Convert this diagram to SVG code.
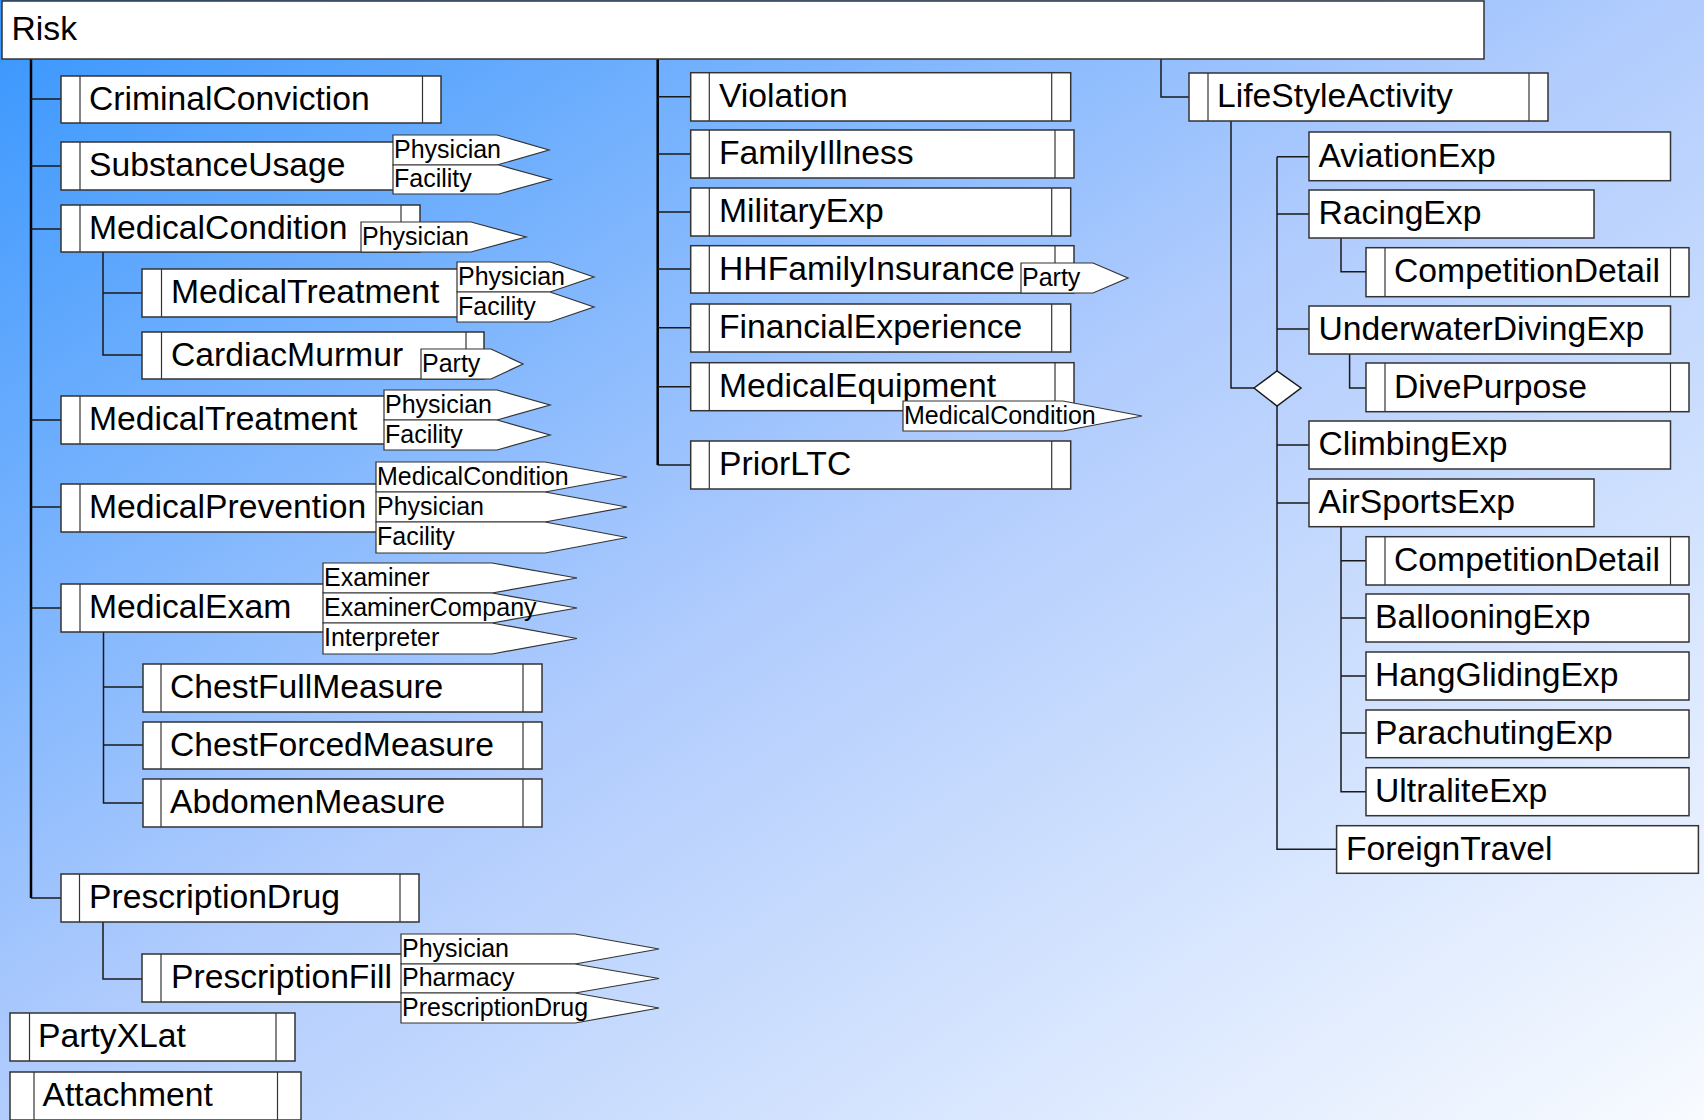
<svg xmlns="http://www.w3.org/2000/svg" width="1704" height="1120" viewBox="0 0 1704 1120">
<defs>
<linearGradient id="bg" x1="0" y1="0" x2="1" y2="1">
<stop offset="0" stop-color="#3796fd"/>
<stop offset="0.48" stop-color="#afcbfd"/>
<stop offset="1" stop-color="#f8fbff"/>
</linearGradient>
<style>
.box{fill:#fff;stroke:#333;stroke-width:1.5}
.dv{stroke:#333;stroke-width:1.2}
.tab{fill:#fff;stroke:#333;stroke-width:1.2}
.t{font-family:"Liberation Sans",Arial,sans-serif;font-size:33.7px;fill:#000}
.tt{font-family:"Liberation Sans",Arial,sans-serif;font-size:25px;fill:#000}
.c{stroke:#1a1a1a;stroke-width:1.5;fill:none}
.trunk{stroke:#000;stroke-width:2.5;fill:none}
</style>
</defs>
<rect width="1704" height="1120" fill="url(#bg)"/>

<g id="connectors">
<path class="trunk" d="M31,59V898"/>
<path class="c" d="M31,898H61M31,99H61M31,166H61M31,229H61M31,420H61M31,507H61M31,608H61"/>
<path class="c" d="M103,252V355H142M103,293H142"/>
<path class="c" d="M103.5,632V803H143M103.5,687H143M103.5,745H143"/>
<path class="c" d="M103,922V979H142"/>
<path class="trunk" d="M657.7,59V465"/>
<path class="c" d="M657.7,465H690.7M657.7,96.7H690.7M657.7,154H690.7M657.7,212H690.7M657.7,269H690.7M657.7,327.7H690.7M657.7,386.7H690.7"/>
<path class="c" d="M1161,59V97H1189"/>
<path class="c" d="M1231,121V388H1254"/>
<path class="c" d="M1277,156.7V849.3H1336.6M1277,156.7H1309M1277,214H1309M1277,329H1309M1277,445H1309M1277,503H1309"/>
<path class="c" d="M1341,238V271.7H1366"/>
<path class="c" d="M1349.6,354V388H1366"/>
<path class="c" d="M1341,527V791.7H1366M1341,560.7H1366M1341,618H1366M1341,676H1366M1341,733H1366"/>
<polygon id="choice" points="1254,388 1277,371 1301,388 1277,406" fill="#fff" stroke="#1a1a1a" stroke-width="1.5"/>
</g>

<g id="Risk"><rect class="box" x="2" y="1" width="1482" height="58"/><text class="t" x="11.5" y="40">Risk</text></g>

<g id="CriminalConviction"><rect class="box" x="61" y="76" width="380" height="47"/><line class="dv" x1="80" y1="76" x2="80" y2="123"/><line class="dv" x1="422.5" y1="76" x2="422.5" y2="123"/><text class="t" x="89" y="110">CriminalConviction</text></g>

<g id="SubstanceUsage"><rect class="box" x="61" y="142" width="360" height="48"/><line class="dv" x1="80" y1="142" x2="80" y2="190"/><text class="t" x="89" y="176">SubstanceUsage</text>
<polygon class="tab" points="393,135 497,135 549,150 497,165 393,165"/><text class="tt" x="394" y="157.5">Physician</text>
<polygon class="tab" points="393,165 499,165 551,179.5 499,194 393,194"/><text class="tt" x="394" y="187">Facility</text></g>

<g id="MedicalCondition"><rect class="box" x="61" y="205" width="359" height="47"/><line class="dv" x1="80" y1="205" x2="80" y2="252"/><line class="dv" x1="401" y1="205" x2="401" y2="252"/><text class="t" x="89" y="239">MedicalCondition</text>
<polygon class="tab" points="361,222 471,222 526,237 471,252 361,252"/><text class="tt" x="362" y="244.5">Physician</text></g>

<g id="MedicalTreatment1"><rect class="box" x="142" y="269" width="335" height="48"/><line class="dv" x1="161.5" y1="269" x2="161.5" y2="317"/><text class="t" x="171" y="303">MedicalTreatment</text>
<polygon class="tab" points="457,262 550,262 594,277 550,292 457,292"/><text class="tt" x="458" y="284.5">Physician</text>
<polygon class="tab" points="457,292 550,292 594,307 550,322 457,322"/><text class="tt" x="458" y="314.5">Facility</text></g>

<g id="CardiacMurmur"><rect class="box" x="142" y="332" width="342" height="47"/><line class="dv" x1="161.5" y1="332" x2="161.5" y2="379"/><line class="dv" x1="466" y1="332" x2="466" y2="379"/><text class="t" x="171" y="366">CardiacMurmur</text>
<polygon class="tab" points="421,349 491,349 523,364 491,379 421,379"/><text class="tt" x="422" y="371.5">Party</text></g>

<g id="MedicalTreatment2"><rect class="box" x="61" y="396" width="343" height="48"/><line class="dv" x1="80" y1="396" x2="80" y2="444"/><text class="t" x="89" y="430">MedicalTreatment</text>
<polygon class="tab" points="384,390 497,390 550,405 497,420 384,420"/><text class="tt" x="385" y="412.5">Physician</text>
<polygon class="tab" points="384,420 497,420 550,435 497,450 384,450"/><text class="tt" x="385" y="442.5">Facility</text></g>

<g id="MedicalPrevention"><rect class="box" x="61" y="484" width="335" height="48"/><line class="dv" x1="80" y1="484" x2="80" y2="532"/><text class="t" x="89" y="518">MedicalPrevention</text>
<polygon class="tab" points="376,462 545,462 627,477 545,492 376,492"/><text class="tt" x="377" y="484.5">MedicalCondition</text>
<polygon class="tab" points="376,492 545,492 627,507 545,522 376,522"/><text class="tt" x="377" y="514.5">Physician</text>
<polygon class="tab" points="376,522 545,522 627,537.5 545,553 376,553"/><text class="tt" x="377" y="544.5">Facility</text></g>

<g id="MedicalExam"><rect class="box" x="61" y="584" width="282" height="48"/><line class="dv" x1="80" y1="584" x2="80" y2="632"/><text class="t" x="89" y="618">MedicalExam</text>
<polygon class="tab" points="323,563 492,563 577,578 492,593 323,593"/><text class="tt" x="324" y="585.5">Examiner</text>
<polygon class="tab" points="323,593 492,593 577,608 492,623 323,623"/><text class="tt" x="324" y="615.5">ExaminerCompany</text>
<polygon class="tab" points="323,623 492,623 577,638.5 492,654 323,654"/><text class="tt" x="324" y="645.5">Interpreter</text></g>

<g id="ChestFullMeasure"><rect class="box" x="143" y="664" width="399" height="48"/><line class="dv" x1="161" y1="664" x2="161" y2="712"/><line class="dv" x1="523" y1="664" x2="523" y2="712"/><text class="t" x="170" y="698">ChestFullMeasure</text></g>
<g id="ChestForcedMeasure"><rect class="box" x="143" y="722" width="399" height="47"/><line class="dv" x1="161" y1="722" x2="161" y2="769"/><line class="dv" x1="523" y1="722" x2="523" y2="769"/><text class="t" x="170" y="756">ChestForcedMeasure</text></g>
<g id="AbdomenMeasure"><rect class="box" x="143" y="779" width="399" height="48"/><line class="dv" x1="161" y1="779" x2="161" y2="827"/><line class="dv" x1="523" y1="779" x2="523" y2="827"/><text class="t" x="170" y="813">AbdomenMeasure</text></g>

<g id="PrescriptionDrug"><rect class="box" x="61" y="874" width="358" height="48"/><line class="dv" x1="79.5" y1="874" x2="79.5" y2="922"/><line class="dv" x1="400" y1="874" x2="400" y2="922"/><text class="t" x="89" y="908">PrescriptionDrug</text></g>

<g id="PrescriptionFill"><rect class="box" x="142" y="954" width="279" height="48"/><line class="dv" x1="161" y1="954" x2="161" y2="1002"/><text class="t" x="171" y="988">PrescriptionFill</text>
<polygon class="tab" points="401,934 575,934 659,949 575,964 401,964"/><text class="tt" x="402" y="956.5">Physician</text>
<polygon class="tab" points="401,964 575,964 659,978.5 575,993 401,993"/><text class="tt" x="402" y="986">Pharmacy</text>
<polygon class="tab" points="401,993 575,993 659,1008 575,1023 401,1023"/><text class="tt" x="402" y="1015.5">PrescriptionDrug</text></g>

<g id="PartyXLat"><rect class="box" x="10" y="1013" width="285" height="48"/><line class="dv" x1="29.5" y1="1013" x2="29.5" y2="1061"/><line class="dv" x1="276" y1="1013" x2="276" y2="1061"/><text class="t" x="38" y="1047">PartyXLat</text></g>
<g id="Attachment"><rect class="box" x="10" y="1072" width="291" height="48"/><line class="dv" x1="34" y1="1072" x2="34" y2="1120"/><line class="dv" x1="277.5" y1="1072" x2="277.5" y2="1120"/><text class="t" x="42.5" y="1106">Attachment</text></g>

<g id="Violation"><rect class="box" x="690.7" y="72.7" width="380" height="48.3"/><line class="dv" x1="709.3" y1="72.7" x2="709.3" y2="121"/><line class="dv" x1="1051.7" y1="72.7" x2="1051.7" y2="121"/><text class="t" x="719" y="107">Violation</text></g>
<g id="FamilyIllness"><rect class="box" x="690.7" y="130" width="383.3" height="48"/><line class="dv" x1="709.3" y1="130" x2="709.3" y2="178"/><line class="dv" x1="1055" y1="130" x2="1055" y2="178"/><text class="t" x="719" y="164">FamilyIllness</text></g>
<g id="MilitaryExp"><rect class="box" x="690.7" y="188" width="380" height="48"/><line class="dv" x1="709.3" y1="188" x2="709.3" y2="236"/><line class="dv" x1="1051.7" y1="188" x2="1051.7" y2="236"/><text class="t" x="719" y="222">MilitaryExp</text></g>
<g id="HHFamilyInsurance"><rect class="box" x="690.7" y="245.7" width="383.3" height="47.3"/><line class="dv" x1="709.3" y1="245.7" x2="709.3" y2="293"/><line class="dv" x1="1055" y1="245.7" x2="1055" y2="293"/><text class="t" x="719" y="279.5">HHFamilyInsurance</text>
<polygon class="tab" points="1021,263 1093,263 1128,278 1093,293 1021,293"/><text class="tt" x="1022" y="285.5">Party</text></g>
<g id="FinancialExperience"><rect class="box" x="690.7" y="304" width="380" height="48"/><line class="dv" x1="709.3" y1="304" x2="709.3" y2="352"/><line class="dv" x1="1051.7" y1="304" x2="1051.7" y2="352"/><text class="t" x="719" y="338">FinancialExperience</text></g>
<g id="MedicalEquipment"><rect class="box" x="690.7" y="362.7" width="383.3" height="48"/><line class="dv" x1="709.3" y1="362.7" x2="709.3" y2="410.7"/><line class="dv" x1="1055" y1="362.7" x2="1055" y2="410.7"/><text class="t" x="719" y="396.5">MedicalEquipment</text>
<polygon class="tab" points="903,401 1063,401 1142,416 1063,431 903,431"/><text class="tt" x="904" y="423.5">MedicalCondition</text></g>
<g id="PriorLTC"><rect class="box" x="690.7" y="441" width="380" height="48"/><line class="dv" x1="709.3" y1="441" x2="709.3" y2="489"/><line class="dv" x1="1051.7" y1="441" x2="1051.7" y2="489"/><text class="t" x="719" y="475">PriorLTC</text></g>

<g id="LifeStyleActivity"><rect class="box" x="1189" y="73" width="359" height="48"/><line class="dv" x1="1208" y1="73" x2="1208" y2="121"/><line class="dv" x1="1529" y1="73" x2="1529" y2="121"/><text class="t" x="1217" y="107">LifeStyleActivity</text></g>
<g id="AviationExp"><rect class="box" x="1309" y="132" width="361.5" height="48.7"/><text class="t" x="1318.5" y="166.5">AviationExp</text></g>
<g id="RacingExp"><rect class="box" x="1309" y="190" width="285" height="48"/><text class="t" x="1318.5" y="224">RacingExp</text></g>
<g id="CompetitionDetail1"><rect class="box" x="1366" y="247.7" width="323" height="49"/><line class="dv" x1="1385" y1="247.7" x2="1385" y2="296.7"/><line class="dv" x1="1670.5" y1="247.7" x2="1670.5" y2="296.7"/><text class="t" x="1394" y="282">CompetitionDetail</text></g>
<g id="UnderwaterDivingExp"><rect class="box" x="1309" y="306" width="361.5" height="48"/><text class="t" x="1318.5" y="340">UnderwaterDivingExp</text></g>
<g id="DivePurpose"><rect class="box" x="1366" y="363" width="323" height="48.7"/><line class="dv" x1="1385" y1="363" x2="1385" y2="411.7"/><line class="dv" x1="1670.5" y1="363" x2="1670.5" y2="411.7"/><text class="t" x="1394" y="397.5">DivePurpose</text></g>
<g id="ClimbingExp"><rect class="box" x="1309" y="421" width="361.5" height="48"/><text class="t" x="1318.5" y="455">ClimbingExp</text></g>
<g id="AirSportsExp"><rect class="box" x="1309" y="479" width="285" height="47.7"/><text class="t" x="1318.5" y="513">AirSportsExp</text></g>
<g id="CompetitionDetail2"><rect class="box" x="1366" y="536.7" width="323" height="48.3"/><line class="dv" x1="1385" y1="536.7" x2="1385" y2="585"/><line class="dv" x1="1670.5" y1="536.7" x2="1670.5" y2="585"/><text class="t" x="1394" y="571">CompetitionDetail</text></g>
<g id="BallooningExp"><rect class="box" x="1366" y="594" width="323" height="48"/><text class="t" x="1375" y="628">BallooningExp</text></g>
<g id="HangGlidingExp"><rect class="box" x="1366" y="652" width="323" height="48"/><text class="t" x="1375" y="686">HangGlidingExp</text></g>
<g id="ParachutingExp"><rect class="box" x="1366" y="710" width="323" height="47.7"/><text class="t" x="1375" y="744">ParachutingExp</text></g>
<g id="UltraliteExp"><rect class="box" x="1366" y="767.7" width="323" height="48"/><text class="t" x="1375" y="801.5">UltraliteExp</text></g>
<g id="ForeignTravel"><rect class="box" x="1336.6" y="825.7" width="361.8" height="47.6"/><text class="t" x="1346" y="859.5">ForeignTravel</text></g>
</svg>
